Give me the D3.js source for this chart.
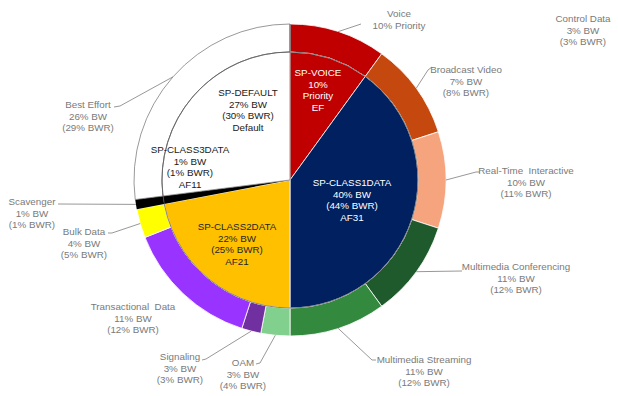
<!DOCTYPE html>
<meta charset="utf-8">
<script src="https://d3js.org/d3.v7.min.js"></script>
<style>
  body { margin: 0; background: #fff; }
  text { font-family: "Liberation Sans", Arial, sans-serif; font-size: 9.8px; }
</style>
<div id="chart"></div>
<script>
// inner pie: service-provider classes (share of the circle)
var innerNames = ["SP-VOICE", "SP-CLASS1DATA", "SP-CLASS2DATA", "SP-CLASS3DATA", "SP-DEFAULT"];
var innerValues = [10, 40, 22, 1, 27];
var innerText = [
  ["SP-VOICE", "10%", "Priority", "EF"],
  ["SP-CLASS1DATA", "40% BW", "(44% BWR)", "AF31"],
  ["SP-CLASS2DATA", "22% BW", "(25% BWR)", "AF21"],
  ["SP-CLASS3DATA", "1% BW", "(1% BWR)", "AF11"],
  ["SP-DEFAULT", "27% BW", "(30% BWR)", "Default"]
];

// outer ring: enterprise classes (arc share as drawn)
var ringNames = ["Voice", "Broadcast Video", "Real-Time  Interactive", "Multimedia Conferencing",
  "Multimedia Streaming", "OAM", "Signaling", "Transactional  Data", "Bulk Data", "Scavenger",
  "Best Effort", "Control Data"];
var ringValues = [10, 10, 10, 10, 10, 3, 2, 14, 3, 1, 27, 0];
var ringBW = ["10% Priority", "7% BW", "10% BW", "11% BW", "11% BW", "3% BW", "3% BW", "11% BW",
  "4% BW", "1% BW", "26% BW", "3% BW"];
var ringBWR = ["", "(8% BWR)", "(11% BWR)", "(12% BWR)", "(12% BWR)", "(4% BWR)", "(3% BWR)",
  "(12% BWR)", "(5% BWR)", "(1% BWR)", "(29% BWR)", "(3% BWR)"];

// styles
var innerColors = ["#c00000", "#002060", "#ffc000", "#000000", "#ffffff"];
var innerTextColors = ["#ffffff", "#ffffff", "#262626", "#1a1a1a", "#1a1a1a"];
var ringColors = ["#c00000", "#c5490f", "#f6a47d", "#1f5a2c", "#338a3f", "#82d08e", "#7030a0",
  "#9933ff", "#ffff00", "#000000", "#ffffff", "#ffffff"];

var width = 618, height = 396;
var cx = 290, cy = 180, rInner = 128, rOuter = 156;

// label layout: text centre of first line, and leader bend points
var innerPos = [[318, 73], [352, 183], [237, 227], [190, 150], [248, 93]];
var ringPos = [[399, 14], [466, 70], [526, 171], [516, 267], [424, 360], [243, 363], [180, 357],
  [133, 307], [84, 232], [32, 202], [88, 105], [583, 19]];
var ringLeader = [
  [[361, 24]],
  [[428, 70], [432, 67]],
  [[476, 172], [480, 172]],
  [[462, 271]],
  [[372, 360], [376, 360]],
  [[260, 363], [256, 364]],
  [[206, 359], [202, 360]],
  null,
  [[112, 233], [108, 233]],
  [[58, 204]],
  [[120, 106], [114, 107]],
  null
];

var svg = d3.select("#chart")
  .append("svg")
    .attr("width", width)
    .attr("height", height);

var g = svg.append("g")
    .attr("transform", "translate(" + cx + "," + cy + ")");

var pie = d3.pie().sort(null).value(function(d) { return d; });

var ringArc = d3.arc().innerRadius(rInner).outerRadius(rOuter);
var edgeArc = d3.arc().innerRadius(rOuter).outerRadius(rOuter);
var innerArc = d3.arc().innerRadius(0).outerRadius(rInner);

var ringData = pie(ringValues);
var innerData = pie(innerValues);

// outer ring
g.selectAll(".ring")
  .data(ringData)
  .enter()
  .append("path")
    .attr("class", "ring")
    .attr("d", ringArc)
    .attr("fill", function(d, i) { return ringColors[i]; })
    .attr("stroke", function(d, i) { return ringColors[i] == "#ffffff" ? "#7f7f7f" : (i == 9 ? "none" : "#ffffff"); })
    .attr("stroke-width", 0.8);

// inner pie
g.selectAll(".inner")
  .data(innerData)
  .enter()
  .append("path")
    .attr("class", "inner")
    .attr("d", innerArc)
    .attr("fill", function(d, i) { return innerColors[i]; })
    .attr("stroke", function(d, i) { return i == 4 ? "#7f7f7f" : (i == 3 ? "none" : "#ffffff"); })
    .attr("stroke-width", 0.8);

g.append("circle")
  .attr("r", rInner)
  .attr("fill", "none")
  .attr("stroke", "#555")
  .attr("stroke-width", 0.7);

// leader lines
ringData.forEach(function(d, i) {
  if (!ringLeader[i]) return;
  var p = edgeArc.centroid(d);
  var pts = [[p[0] + cx, p[1] + cy]].concat(ringLeader[i]);
  svg.append("path")
    .attr("d", d3.line()(pts))
    .attr("fill", "none")
    .attr("stroke", "#8c8c8c")
    .attr("stroke-width", 0.9);
});

// ring labels
ringNames.forEach(function(name, i) {
  var lines = [name, ringBW[i], ringBWR[i]].filter(function(s) { return s !== ""; });
  var t = svg.append("text")
    .attr("text-anchor", "middle")
    .attr("fill", "#7a7a7a")
    .style("white-space", "pre");
  lines.forEach(function(s, k) {
    t.append("tspan")
      .attr("x", ringPos[i][0])
      .attr("y", ringPos[i][1] + k * 11.5)
      .attr("dy", "0.35em")
      .text(s);
  });
});

// inner labels
innerText.forEach(function(lines, i) {
  var t = svg.append("text")
    .attr("text-anchor", "middle")
    .attr("fill", innerTextColors[i]);
  lines.forEach(function(s, k) {
    t.append("tspan")
      .attr("x", innerPos[i][0])
      .attr("y", innerPos[i][1] + k * 11.4)
      .attr("dy", "0.35em")
      .text(s);
  });
});
</script>
